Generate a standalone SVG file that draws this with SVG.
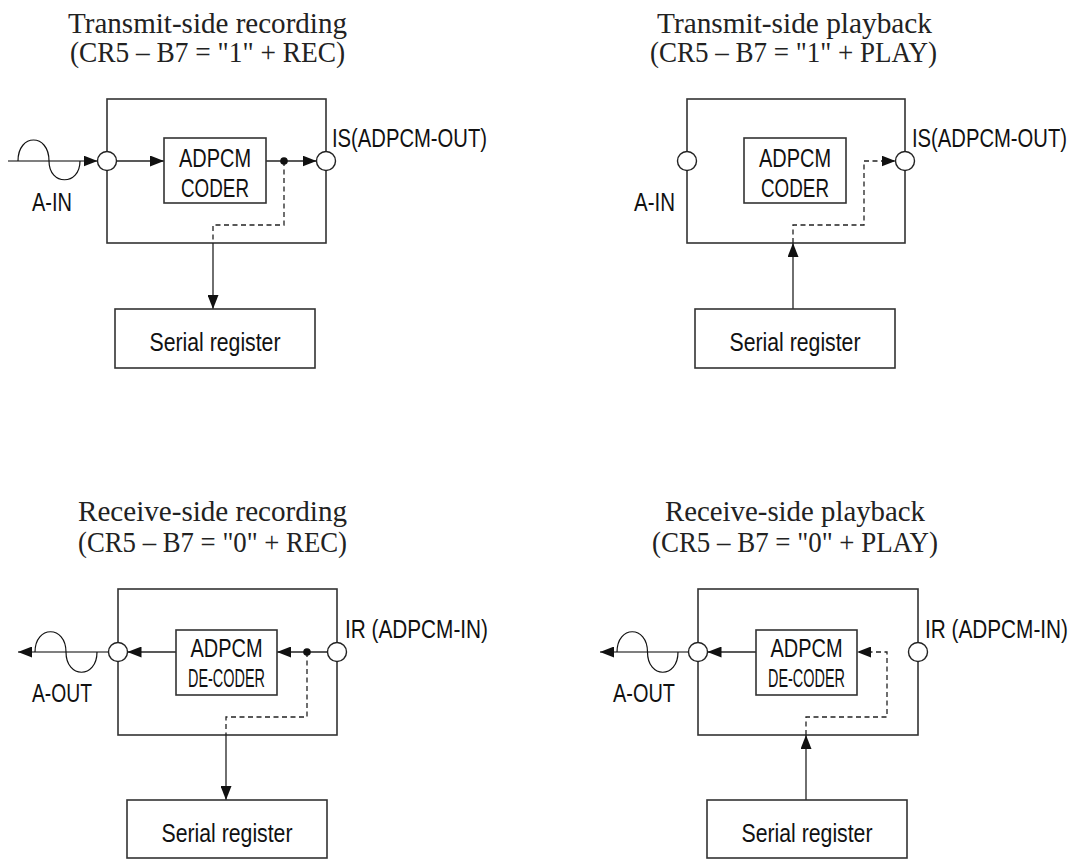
<svg xmlns="http://www.w3.org/2000/svg" width="1074" height="859" viewBox="0 0 1074 859">
<style>
.t{font-family:"Liberation Serif","Times New Roman",serif;font-size:28.5px;fill:#222;text-anchor:middle}
.s{font-family:"Liberation Sans",Arial,sans-serif;font-size:25.5px;fill:#111}
.m{text-anchor:middle}
.box{fill:#fff;stroke:#333;stroke-width:1.6}
.frame{fill:none;stroke:#333;stroke-width:1.6}
.pin{fill:#fff;stroke:#222;stroke-width:1.4}
.ln{fill:none;stroke:#222;stroke-width:1.3}
.ln2{fill:none;stroke:#555;stroke-width:1.3}
.da{fill:none;stroke:#222;stroke-width:1.3;stroke-dasharray:5 3.5}
.wv{fill:none;stroke:#111;stroke-width:1.2}
.dot{fill:#111}
</style>
<defs>
<marker id="ah" viewBox="0 0 14 11" refX="14" refY="5.5" markerWidth="14" markerHeight="11" markerUnits="userSpaceOnUse" orient="auto">
<path d="M0,0 L14,5.5 L0,11 Z" fill="#111"/>
</marker>
</defs>

<!-- Titles -->
<g id="title-tx-rec">
<text class="t" x="207.5" y="33" textLength="279" lengthAdjust="spacingAndGlyphs">Transmit-side recording</text>
<text class="t" x="207.5" y="62" textLength="275" lengthAdjust="spacingAndGlyphs">(CR5 – B7 = "1" + REC)</text>
</g>
<g id="title-tx-play">
<text class="t" x="794.5" y="33" textLength="275" lengthAdjust="spacingAndGlyphs">Transmit-side playback</text>
<text class="t" x="793.5" y="62" textLength="287" lengthAdjust="spacingAndGlyphs">(CR5 – B7 = "1" + PLAY)</text>
</g>
<g id="title-rx-rec">
<text class="t" x="212.5" y="521" textLength="269" lengthAdjust="spacingAndGlyphs">Receive-side recording</text>
<text class="t" x="212.5" y="552" textLength="269" lengthAdjust="spacingAndGlyphs">(CR5 – B7 = "0" + REC)</text>
</g>
<g id="title-rx-play">
<text class="t" x="795" y="521" textLength="260" lengthAdjust="spacingAndGlyphs">Receive-side playback</text>
<text class="t" x="795" y="552" textLength="286" lengthAdjust="spacingAndGlyphs">(CR5 – B7 = "0" + PLAY)</text>
</g>

<!-- Frames -->
<g id="frame-tx-rec"><rect class="frame" x="107" y="99" width="219" height="144"/></g>
<g id="frame-tx-play"><rect class="frame" x="687" y="99" width="218" height="144"/></g>
<g id="frame-rx-rec"><rect class="frame" x="118" y="589" width="219" height="146"/></g>
<g id="frame-rx-play"><rect class="frame" x="698" y="589" width="220" height="146"/></g>

<!-- Connectors -->
<g id="connectors">
<!-- panel 1 -->
<line class="ln2" x1="8" y1="161" x2="97.5" y2="161" marker-end="url(#ah)"/>
<path class="wv" d="M18,161 C18,133 49,133 49,161 C49,186 80,186 80,161"/>
<line class="ln" x1="116.5" y1="161" x2="164" y2="161" marker-end="url(#ah)"/>
<line class="ln" x1="266" y1="161" x2="316.5" y2="161" marker-end="url(#ah)"/>
<path class="da" d="M284,161 V225 H213 V243"/>
<line class="ln" x1="213" y1="243" x2="213" y2="309" marker-end="url(#ah)"/>
<!-- panel 2 -->
<path class="da" d="M793,243 V225 H864 V161 H895.5" marker-end="url(#ah)"/>
<line class="ln" x1="793" y1="309" x2="793" y2="243" marker-end="url(#ah)"/>
<!-- panel 3 -->
<line class="ln2" x1="108.5" y1="652" x2="18" y2="652" marker-end="url(#ah)"/>
<path class="wv" d="M35,652 C35,625 66,625 66,652 C66,679 97,679 97,652"/>
<line class="ln" x1="176" y1="652" x2="127.5" y2="652" marker-end="url(#ah)"/>
<line class="ln" x1="327.5" y1="652" x2="277" y2="652" marker-end="url(#ah)"/>
<path class="da" d="M307,652 V717 H226 V735"/>
<line class="ln" x1="226" y1="735" x2="226" y2="800" marker-end="url(#ah)"/>
<!-- panel 4 -->
<line class="ln2" x1="688.5" y1="652" x2="600" y2="652" marker-end="url(#ah)"/>
<path class="wv" d="M617,652 C617,625 647.5,625 647.5,652 C647.5,679 678,679 678,652"/>
<line class="ln" x1="756" y1="652" x2="707.5" y2="652" marker-end="url(#ah)"/>
<path class="da" d="M806,735 V717 H887 V652 H857" marker-end="url(#ah)"/>
<line class="ln" x1="806" y1="800" x2="806" y2="735" marker-end="url(#ah)"/>
</g>

<!-- Panel 1 nodes -->
<g id="tx-rec-ain"><circle class="pin" cx="107" cy="161" r="9.5"/><text class="s" x="32" y="211" textLength="40" lengthAdjust="spacingAndGlyphs">A-IN</text></g>
<g id="tx-rec-is"><circle class="pin" cx="326" cy="161" r="9.5"/><text class="s" x="332" y="147" textLength="155" lengthAdjust="spacingAndGlyphs">IS(ADPCM-OUT)</text></g>
<g id="tx-rec-coder"><rect class="box" x="164" y="138" width="102" height="65"/><text class="s m" x="215" y="167" textLength="72" lengthAdjust="spacingAndGlyphs">ADPCM</text><text class="s m" x="215" y="197" textLength="68" lengthAdjust="spacingAndGlyphs">CODER</text></g>
<g id="tx-rec-dot"><circle class="dot" cx="284" cy="161" r="3.8"/></g>
<g id="tx-rec-serial"><rect class="box" x="115" y="309" width="200" height="59"/><text class="s m" x="215" y="351" textLength="131" lengthAdjust="spacingAndGlyphs">Serial register</text></g>

<!-- Panel 2 nodes -->
<g id="tx-play-ain"><circle class="pin" cx="687" cy="161" r="9.5"/><text class="s" x="634" y="211" textLength="41" lengthAdjust="spacingAndGlyphs">A-IN</text></g>
<g id="tx-play-is"><circle class="pin" cx="905" cy="161" r="9.5"/><text class="s" x="912" y="147" textLength="155" lengthAdjust="spacingAndGlyphs">IS(ADPCM-OUT)</text></g>
<g id="tx-play-coder"><rect class="box" x="744" y="138" width="102" height="65"/><text class="s m" x="795" y="167" textLength="72" lengthAdjust="spacingAndGlyphs">ADPCM</text><text class="s m" x="795" y="197" textLength="68" lengthAdjust="spacingAndGlyphs">CODER</text></g>
<g id="tx-play-serial"><rect class="box" x="695" y="309" width="200" height="59"/><text class="s m" x="795" y="351" textLength="131" lengthAdjust="spacingAndGlyphs">Serial register</text></g>

<!-- Panel 3 nodes -->
<g id="rx-rec-aout"><circle class="pin" cx="118" cy="652" r="9.5"/><text class="s" x="32" y="702" textLength="60" lengthAdjust="spacingAndGlyphs">A-OUT</text></g>
<g id="rx-rec-ir"><circle class="pin" cx="337" cy="652" r="9.5"/><text class="s" x="345" y="638" textLength="143" lengthAdjust="spacingAndGlyphs">IR (ADPCM-IN)</text></g>
<g id="rx-rec-decoder"><rect class="box" x="176" y="630" width="101" height="65"/><text class="s m" x="226.5" y="657" textLength="72" lengthAdjust="spacingAndGlyphs">ADPCM</text><text class="s m" x="226.5" y="687" textLength="77" lengthAdjust="spacingAndGlyphs">DE-CODER</text></g>
<g id="rx-rec-dot"><circle class="dot" cx="307" cy="652" r="3.8"/></g>
<g id="rx-rec-serial"><rect class="box" x="127" y="800" width="200" height="58"/><text class="s m" x="227" y="842" textLength="131" lengthAdjust="spacingAndGlyphs">Serial register</text></g>

<!-- Panel 4 nodes -->
<g id="rx-play-aout"><circle class="pin" cx="698" cy="652" r="9.5"/><text class="s" x="613" y="702" textLength="62" lengthAdjust="spacingAndGlyphs">A-OUT</text></g>
<g id="rx-play-ir"><circle class="pin" cx="918" cy="652" r="9.5"/><text class="s" x="925" y="638" textLength="143" lengthAdjust="spacingAndGlyphs">IR (ADPCM-IN)</text></g>
<g id="rx-play-decoder"><rect class="box" x="756" y="630" width="101" height="65"/><text class="s m" x="806.5" y="657" textLength="72" lengthAdjust="spacingAndGlyphs">ADPCM</text><text class="s m" x="806.5" y="687" textLength="77" lengthAdjust="spacingAndGlyphs">DE-CODER</text></g>
<g id="rx-play-serial"><rect class="box" x="707" y="800" width="200" height="58"/><text class="s m" x="807" y="842" textLength="131" lengthAdjust="spacingAndGlyphs">Serial register</text></g>
</svg>
